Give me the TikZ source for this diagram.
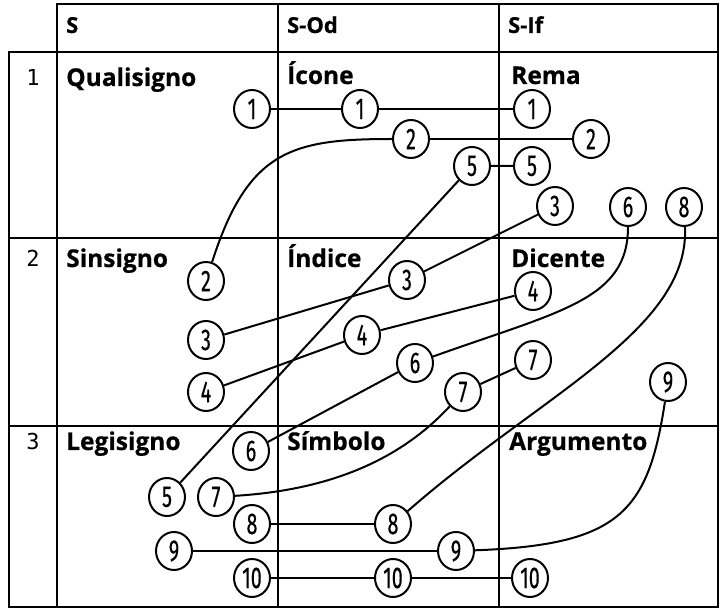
\documentclass[tikz,border=0pt]{standalone}
\usepackage{fontspec}
\setmainfont{Fira Sans}
\newfontfamily\lblfont[BoldFeatures={FakeBold=0.6}]{Open Sans}
\newfontfamily\rowfont{DejaVu Sans Mono}
\newfontfamily\digfont[FakeBold=0.5]{Fira Sans}
\usetikzlibrary{shapes.geometric}
\newcommand{\cnum}[1]{\scalebox{0.66}[1]{#1}}
\tikzset{
  gridline/.style={line width=2.8pt, line cap=rect},
  lbl/.style={anchor=base west, inner sep=0pt, font=\fontsize{24.5}{28}\selectfont\lblfont\bfseries},
  hdr/.style={anchor=base west, inner sep=0pt, font=\fontsize{22}{24}\selectfont\lblfont\bfseries},
  rownum/.style={anchor=base, inner sep=0pt, font=\fontsize{22}{24}\selectfont\rowfont},
  num/.style={ellipse, draw, line width=2pt, minimum width=36pt, minimum height=38pt, inner sep=0pt, font=\fontsize{30}{32}\selectfont\digfont},
  conn/.style={line width=2pt}
}
\begin{document}
\begin{tikzpicture}[x=1pt,y=-1pt]
\useasboundingbox (0,0) rectangle (721,609);
% table
\draw[gridline] (57,4) rectangle (718,52);
\draw[gridline] (9,52) rectangle (718,607);
\draw[gridline] (57,52) -- (57,607);
\draw[gridline] (278,4) -- (278,607);
\draw[gridline] (499,4) -- (499,607);
\draw[gridline] (9,238) -- (718,238);
\draw[gridline] (9,426) -- (718,426);
% headers
\node[hdr] (hS) at (66,33) {S};
\node[hdr] (hSOd) at (287,33) {S-Od};
\node[hdr] (hSIf) at (508,33) {S-If};
% row numbers
\node[rownum] (r1) at (33,86) {1};
\node[rownum] (r2) at (33,267) {2};
\node[rownum] (r3) at (33,450) {3};
% labels
\node[lbl] (lq) at (66,86) {Qualisigno};
\node[lbl] (li) at (287,84) {Ícone};
\node[lbl] (lr) at (511,84) {Rema};
\node[lbl] (ls) at (66,267) {Sinsigno};
\node[lbl] (lind) at (287,267) {Índice};
\node[lbl] (ld) at (511,267) {Dicente};
\node[lbl] (ll) at (66,450) {Legisigno};
\node[lbl] (lsim) at (287,450) {Símbolo};
\node[lbl] (la) at (509,450) {Argumento};
% circles
\node[num] (c1a) at (252,109) {\cnum{1}};
\node[num] (c1b) at (360,109) {\cnum{1}};
\node[num] (c1c) at (532,109) {\cnum{1}};
\node[num] (c2a) at (206,281) {\cnum{2}};
\node[num] (c2b) at (411,139) {\cnum{2}};
\node[num] (c2c) at (591,139) {\cnum{2}};
\node[num] (c3a) at (206,340) {\cnum{3}};
\node[num] (c3b) at (407,280) {\cnum{3}};
\node[num] (c3c) at (555,206) {\cnum{3}};
\node[num] (c4a) at (206,392) {\cnum{4}};
\node[num] (c4b) at (362,335) {\cnum{4}};
\node[num] (c4c) at (533,291) {\cnum{4}};
\node[num] (c5a) at (167,497) {\cnum{5}};
\node[num] (c5b) at (472,166) {\cnum{5}};
\node[num] (c5c) at (532,166) {\cnum{5}};
\node[num] (c6a) at (251,451) {\cnum{6}};
\node[num] (c6b) at (415,363) {\cnum{6}};
\node[num] (c6c) at (628,207) {\cnum{6}};
\node[num] (c7a) at (216,497) {\cnum{7}};
\node[num] (c7b) at (463,392) {\cnum{7}};
\node[num] (c7c) at (533,360) {\cnum{7}};
\node[num] (c8a) at (252,524) {\cnum{8}};
\node[num] (c8b) at (393,524) {\cnum{8}};
\node[num] (c8c) at (684,207) {\cnum{8}};
\node[num] (c9a) at (174,551) {\cnum{9}};
\node[num] (c9b) at (456,551) {\cnum{9}};
\node[num] (c9c) at (668,382) {\cnum{9}};
\node[num] (c10a) at (252,578) {\cnum{10}};
\node[num] (c10b) at (393,578) {\cnum{10}};
\node[num] (c10c) at (530,578) {\cnum{10}};
% connectors
\draw[conn] (c1a) -- (c1b) -- (c1c);
\draw[conn] (c2a) .. controls (248,150) and (292,139) .. (c2b);
\draw[conn] (c2b) -- (c2c);
\draw[conn] (c3a) -- (c3b) -- (c3c);
\draw[conn] (c4a) -- (c4b) -- (c4c);
\draw[conn] (c5a) -- (c5b) -- (c5c);
\draw[conn] (c6a) -- (c6b);
\draw[conn] (c6b) .. controls (560,311) and (628,300) .. (c6c);
\draw[conn] (c7a) .. controls (330,490) and (400,460) .. (c7b);
\draw[conn] (c7b) -- (c7c);
\draw[conn] (c8a) -- (c8b);
\draw[conn] (c8b) .. controls (540,395) and (690,330) .. (c8c);
\draw[conn] (c9a) -- (c9b);
\draw[conn] (c9b) .. controls (620,545) and (648,512) .. (c9c);
\draw[conn] (c10a) -- (c10b) -- (c10c);
\end{tikzpicture}
\end{document}
